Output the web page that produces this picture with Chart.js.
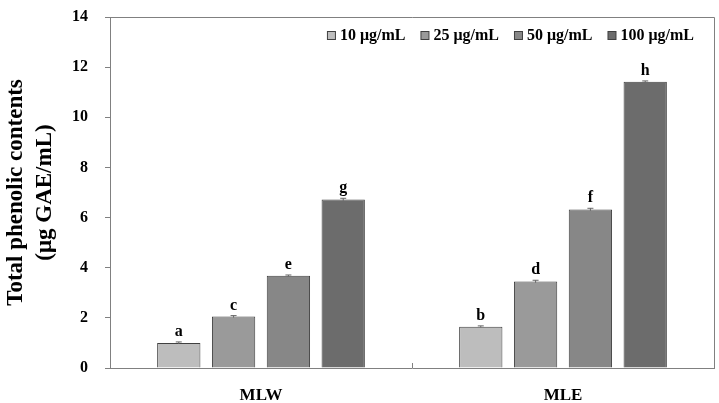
<!DOCTYPE html>
<html><head><meta charset="utf-8">
<script src="https://cdn.jsdelivr.net/npm/chart.js@4/dist/chart.umd.min.js"></script>
<style>html,body{margin:0;padding:0;background:#fff}#wrap{width:719px;height:403px}</style>
</head><body><div id="wrap"><canvas id="c" width="719" height="403"></canvas></div>
<script>
const categories = ["MLW", "MLE"];
const seriesNames = ["10 μg/mL", "25 μg/mL", "50 μg/mL", "100 μg/mL"];
const s10 = [1.00, 1.65];
const s25 = [2.05, 3.45];
const s50 = [3.68, 6.32];
const s100 = [6.72, 11.42];
const err10 = [0.04, 0.03];
const err25 = [0.04, 0.05];
const err50 = [0.03, 0.05];
const err100 = [0.05, 0.03];
const letters10 = ["a", "b"];
const letters25 = ["c", "d"];
const letters50 = ["e", "f"];
const letters100 = ["g", "h"];
const yTicks = [0, 2, 4, 6, 8, 10, 12, 14];

const colors = ["#bdbdbd", "#9a9a9a", "#878787", "#6c6c6c"];
const values = [s10, s25, s50, s100];
const errs = [err10, err25, err50, err100];
const letters = [letters10, letters25, letters50, letters100];
const serif = "'Liberation Serif', 'Times New Roman', serif";

const annot = {
  id: 'annot',
  afterDatasetsDraw(chart) {
    const ctx = chart.ctx;
    const ys = chart.scales.y;
    const a = chart.chartArea;
    ctx.save();
    chart.data.datasets.forEach((ds, di) => {
      const meta = chart.getDatasetMeta(di);
      meta.data.forEach((bar, i) => {
        const v = ds.data[i];
        const e = errs[di][i];
        const yTop = ys.getPixelForValue(v + e);
        const yBot = ys.getPixelForValue(v - e);
        ctx.strokeStyle = '#666';
        ctx.lineWidth = 1;
        ctx.beginPath();
        ctx.moveTo(bar.x, yTop); ctx.lineTo(bar.x, yBot);
        ctx.moveTo(bar.x - 3, yTop); ctx.lineTo(bar.x + 3, yTop);
        ctx.stroke();
        ctx.fillStyle = '#000';
        ctx.font = "bold 16px " + serif;
        ctx.textAlign = 'center';
        ctx.textBaseline = 'bottom';
        ctx.fillText(letters[di][i], bar.x, yTop - 2);
      });
    });
    // frame
    ctx.strokeStyle = '#808080';
    ctx.lineWidth = 1;
    ctx.beginPath();
    ctx.moveTo(a.left, a.top + 0.5); ctx.lineTo(a.right + 0.5, a.top + 0.5); ctx.lineTo(a.right + 0.5, a.bottom);
    ctx.stroke();
    // category boundary tick marks (inward)
    const xs = chart.scales.x;
    for (let i = 1; i < categories.length; i++) {
      const xb = Math.round((xs.getPixelForValue(i - 1) + xs.getPixelForValue(i)) / 2) + 0.5;
      ctx.beginPath();
      ctx.moveTo(xb, a.bottom); ctx.lineTo(xb, a.bottom - 5);
      ctx.stroke();
    }
    // legend
    ctx.font = "bold 16px " + serif;
    ctx.textBaseline = 'middle';
    ctx.textAlign = 'left';
    const box = 8, gapBox = 5, gapItem = 15;
    const widths = seriesNames.map(n => ctx.measureText(n).width);
    let total = widths.reduce((s, w) => s + w + box + gapBox, 0) + gapItem * (seriesNames.length - 1);
    let x = a.right - 20 - total;
    const ly = a.top + 18;
    seriesNames.forEach((n, i) => {
      ctx.fillStyle = colors[i];
      ctx.fillRect(x + 0.5, ly - box / 2 + 0.5, box, box);
      ctx.strokeStyle = '#404040';
      ctx.strokeRect(x + 0.5, ly - box / 2 + 0.5, box, box);
      ctx.fillStyle = '#000';
      ctx.fillText(n, x + box + gapBox, ly + 1);
      x += box + gapBox + widths[i] + gapItem;
    });
    ctx.restore();
  }
};

new Chart(document.getElementById('c'), {
  type: 'bar',
  data: {
    labels: categories,
    datasets: seriesNames.map((n, i) => ({
      label: n,
      data: values[i],
      backgroundColor: colors[i],
      borderColor: '#404040',
      borderWidth: 1,
      categoryPercentage: 0.726,
      barPercentage: 0.79
    }))
  },
  options: {
    responsive: false,
    animation: false,
    layout: { padding: { top: 17, right: 5, left: 0, bottom: 0 } },
    plugins: {
      tooltip: { enabled: false },
      legend: { display: false }
    },
    scales: {
      x: {
        afterFit(s) { s.height = 35; },
        grid: { display: false },
        border: { color: '#808080' },
        ticks: { color: '#000', font: { family: serif, size: 17, weight: 'bold' }, padding: 9 }
      },
      y: {
        min: 0, max: 14,
        afterFit(s) { s.width = 110; s.paddingTop = 0; s.paddingBottom = 0; },
        afterBuildTicks(s) { s.ticks = yTicks.map(v => ({ value: v })); },
        grid: { drawOnChartArea: false, drawTicks: true, tickLength: 5, color: '#808080' },
        border: { color: '#808080' },
        ticks: { color: '#000', font: { family: serif, size: 16, weight: 'bold' }, padding: 17 },
        title: {
          display: true,
          text: ["Total phenolic contents", "(μg GAE/mL)"],
          color: '#000',
          font: { family: serif, size: 23, weight: 'bold', lineHeight: 1.26 },
          padding: { top: 2, bottom: 0 }
        }
      }
    }
  },
  plugins: [annot]
});
</script>
</body></html>
